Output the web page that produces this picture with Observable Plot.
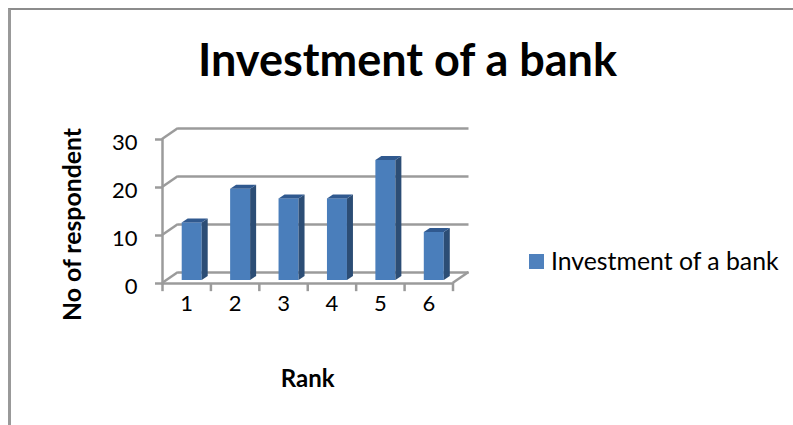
<!DOCTYPE html>
<html>
<head>
<meta charset="utf-8">
<script src="https://cdn.jsdelivr.net/npm/d3@7"></script>
<script src="https://cdn.jsdelivr.net/npm/@observablehq/plot@0.6"></script>
<style>
  html, body { margin: 0; padding: 0; background: #fff; }
  #page { position: relative; width: 793px; height: 425px; overflow: hidden; font-family: Lato, "Open Sans", sans-serif; color: #000; }
  #border { position: absolute; left: 8px; top: 8px; right: -4px; bottom: -4px; border-left: 3px solid #999; border-top: 2px solid #8c8c8c; }
  #title { position: absolute; left: 0; width: 815px; top: 36px; text-align: center; font-size: 45px; font-weight: 700; line-height: 46px; }
  #legend { position: absolute; left: 529px; top: 247px; display: flex; align-items: center; font-size: 24.8px; line-height: 28px; white-space: nowrap; }
  #legend i { display: inline-block; width: 15px; height: 15px; background: #4f81bd; margin-right: 7px; }
  svg { position: absolute; left: 0; top: 0; }
</style>
</head>
<body>
<div id="page">
  <div id="border"></div>
  <div id="title">Investment of a bank</div>
  <div id="legend"><i></i><span>Investment of a bank</span></div>
</div>
<script>
const ranks = [1, 2, 3, 4, 5, 6];
const respondents = [12, 19, 17, 17, 25, 10];
const yTicks = [0, 10, 20, 30];
const yLabel = "No of respondent";
const xLabel = "Rank";

const gridColor = "#9b9b9b";
const gridWidth = 2.5;
const frontColor = "#4a7ebb";
const sideColor = "#2c4d75";
const topColor = "#30598f";
const wallDx = 16, wallDy = -11;
const barDx = 5.5, barDy = -3;
const sideDx = 6, sideDy = -4;
const stepPx = 48.42;

function polygon(parent, points, fill) {
  d3.select(parent).append("polygon")
    .attr("points", points.map(p => p.join(",")).join(" "))
    .attr("fill", fill);
}

// Adds the side and top faces of each bar using the chart's own scales.
function boxFaces(index, scales, values, dimensions, context, next) {
  const g = next(index, scales, values, dimensions, context);
  const w = scales.x.bandwidth();
  const y0 = scales.y(0);
  for (const i of index) {
    const x = scales.x(ranks[i]), y = scales.y(respondents[i]);
    polygon(g, [[x + w, y], [x + w + sideDx, y + sideDy], [x + w + sideDx, y0 + sideDy], [x + w, y0]], sideColor);
    polygon(g, [[x, y], [x + sideDx, y + sideDy], [x + w + sideDx, y + sideDy], [x + w, y]], topColor);
  }
  return g;
}

// Diagonal lines joining the front axis to the back wall gridlines.
function wallDiagonals(index, scales, values, dimensions) {
  const g = d3.create("svg:g").attr("stroke", gridColor).attr("stroke-width", gridWidth).attr("fill", "none");
  const left = dimensions.marginLeft, right = dimensions.width - dimensions.marginRight;
  const seg = (x, v) => g.append("line")
    .attr("x1", x).attr("y1", scales.y(v))
    .attr("x2", x + wallDx).attr("y2", scales.y(v) + wallDy);
  yTicks.forEach(v => seg(left, v));
  seg(right, 0);
  return g.node();
}

const chart = Plot.plot({
  width: 793,
  height: 425,
  marginLeft: 162,
  marginRight: 340.5,
  marginTop: 139,
  marginBottom: 142,
  style: { background: "transparent", fontFamily: "Lato, 'Open Sans', sans-serif", color: "#000" },
  x: { type: "band", domain: ranks, paddingInner: 0.587, paddingOuter: 0.2935, round: false, axis: null },
  y: { domain: [0, 30], axis: null },
  marks: [
    Plot.ruleY(yTicks, { y: d => d, dx: wallDx, dy: wallDy, stroke: gridColor, strokeWidth: gridWidth }),
    Plot.ruleY([0], { y: d => d, stroke: gridColor, strokeWidth: gridWidth }),
    Plot.frame({ anchor: "left", stroke: gridColor, strokeWidth: gridWidth }),
    Plot.ruleY(yTicks, { y: d => d, render: wallDiagonals }),
    Plot.ruleX(ranks, { x: d => d, y1: 0, y2: -1.7, dx: -stepPx / 2, stroke: gridColor, strokeWidth: gridWidth }),
    Plot.ruleX([ranks[ranks.length - 1]], { x: d => d, y1: 0, y2: -1.7, dx: stepPx / 2, stroke: gridColor, strokeWidth: gridWidth }),
    Plot.barY(respondents, {
      x: (d, i) => ranks[i], y: d => d,
      fill: frontColor, dx: barDx, dy: barDy,
      render: boxFaces
    }),
    Plot.axisY({ ticks: yTicks, tickSize: 7, fill: "none", stroke: gridColor, strokeWidth: gridWidth, label: null }),
    Plot.axisY({ ticks: yTicks, tickSize: 0, tickPadding: 25, dy: 3, fontSize: 22, label: null }),
    Plot.axisX({ ticks: ranks, tickSize: 0, tickPadding: 12, fontSize: 22, label: null }),
    Plot.text([yLabel], {
      text: d => d, frameAnchor: "left", textAnchor: "middle", rotate: -90, dx: -89, dy: 13,
      fontSize: 24.8, fontWeight: 700, fill: "#000"
    }),
    Plot.text([xLabel], {
      text: d => d, frameAnchor: "bottom", dy: 103,
      fontSize: 24, fontWeight: 700, fill: "#000"
    })
  ]
});
document.getElementById("page").appendChild(chart);
</script>
</body>
</html>
